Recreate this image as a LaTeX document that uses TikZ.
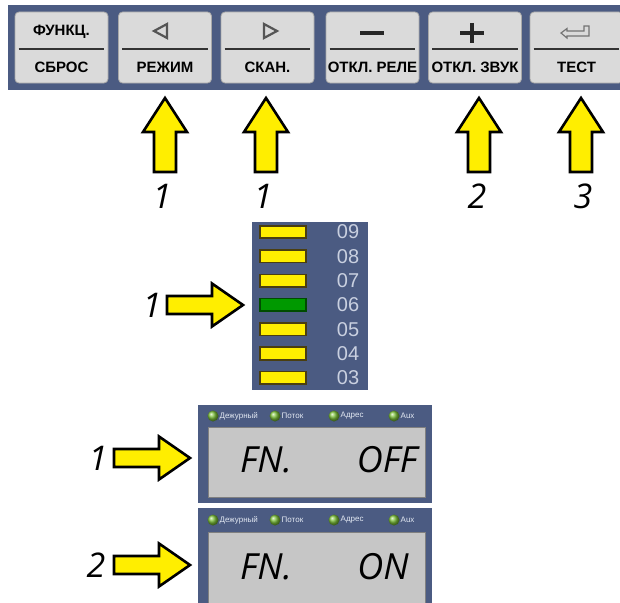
\documentclass[tikz,border=0pt]{standalone}
\usepackage{fontspec}
\setmainfont{Liberation Sans}
\newfontfamily\numfont{Open Sans}
\usetikzlibrary{shadings}
\definecolor{panelblue}{HTML}{4B5B82}
\definecolor{btnface}{HTML}{DADADA}
\definecolor{btnedge}{HTML}{A8A8A8}
\definecolor{arrowyellow}{HTML}{FFEE00}
\definecolor{barolive}{HTML}{4A3E10}
\definecolor{numgrey}{HTML}{C9D0E0}
\definecolor{lcdgrey}{HTML}{C6C6C6}
\definecolor{ledtext}{HTML}{E2E8F2}
\definecolor{glyphgrey}{HTML}{555555}
\definecolor{ledgreen}{HTML}{7DC23A}
\tikzset{
  btn/.style={draw=btnedge, fill=btnface, rounded corners=4pt, line width=0.8pt, minimum width=93pt, minimum height=71pt, inner sep=0pt},
  btntext/.style={font=\bfseries\fontsize{15}{16}\selectfont, text=black, inner sep=0pt},
  divider/.style={draw=black!80, line width=1.8pt},
  arrowshape/.style={draw=black, fill=arrowyellow, line width=2.6pt, line join=miter},
  numlabel/.style={font=\numfont\itshape\fontsize{34}{36}\selectfont, inner sep=0pt},
  bar/.style={draw=barolive, fill=arrowyellow, line width=1.6pt, minimum width=46pt, minimum height=12.5pt, inner sep=0pt},
  barnum/.style={font=\fontsize{20}{21}\selectfont, text=numgrey, inner sep=0pt},
  ledtxt/.style={font=\fontsize{8}{9}\selectfont, text=ledtext, anchor=west, inner sep=0pt},
  lcdtext/.style={font=\numfont\itshape\fontsize{36}{38}\selectfont, inner sep=0pt},
  uparrow/.pic={\path[arrowshape] (0,0) -- (22,34) -- (11,34) -- (11,74) -- (-11,74) -- (-11,34) -- (-22,34) -- cycle;},
  rightarrow/.pic={\path[arrowshape] (0,0) -- (-31,-21.5) -- (-31,-9) -- (-76,-9) -- (-76,9) -- (-31,9) -- (-31,21.5) -- cycle;},
}
\newcommand{\ledat}[3]{%
  \shade[ball color=ledgreen] (#1,#2) circle (5.5);
  \node[ledtxt] at ({#1+6.5},#2) {#3};}
\begin{document}
\begin{tikzpicture}[x=1pt,y=-1pt]
\useasboundingbox (0,0) rectangle (620,602);
\begin{scope}
\clip (0,0) rectangle (620,602);
% ---------- top button panel ----------
\fill[panelblue] (8,5) rectangle (625,90);
\node[btn] (b1) at (61.5,47.5) {};
\node[btn] (b2) at (165,47.5) {};
\node[btn] (b3) at (267.5,47.5) {};
\node[btn] (b4) at (372.5,47.5) {};
\node[btn] (b5) at (475,47.5) {};
\node[btn] (b6) at (576.5,47.5) {};
\foreach \b in {b1,b2,b3,b4,b5,b6}{
  \draw[divider] ([xshift=4pt,yshift=-1.5pt]\b.west) -- ([xshift=-4pt,yshift=-1.5pt]\b.east);
}
\node[btntext] (t1) at (61.5,32) {ФУНКЦ.};
\node[btntext] (s1) at (61.5,67.5) {СБРОС};
\node[btntext] (s2) at (165,67.5) {РЕЖИМ};
\node[btntext] (s3) at (267.5,67.5) {СКАН.};
\node[btntext] (s4) at (372.5,67.5) {ОТКЛ. РЕЛЕ};
\node[btntext] (s5) at (475,67.5) {ОТКЛ. ЗВУК};
\node[btntext] (s6) at (576.5,67.5) {ТЕСТ};
% glyphs
\draw[glyphgrey, line width=2.2pt, line join=miter] (154,31) -- (167,24) -- (167,38) -- cycle;
\draw[glyphgrey, line width=2.2pt, line join=miter] (277,31) -- (264,24) -- (264,38) -- cycle;
\draw[black!85, line width=4pt] (360,33) -- (384,33);
\draw[black!85, line width=4pt] (460,33) -- (484,33);
\draw[black!85, line width=4pt] (472,23) -- (472,43);
\draw[black!55, fill=btnface, line width=1.2pt, line join=miter]
  (561,33) -- (567,28.5) -- (567,31) -- (584,31) -- (584,26) -- (589,26) -- (589,36) -- (567,36) -- (567,38) -- cycle;
% ---------- up arrows ----------
\pic at (165,98) {uparrow};
\pic at (266,98) {uparrow};
\pic at (479,98) {uparrow};
\pic at (581,98) {uparrow};
\node[numlabel] (n1) at (162,196) {1};
\node[numlabel] (n2) at (263,196) {1};
\node[numlabel] (n3) at (477,196) {2};
\node[numlabel] (n4) at (583,196) {3};
% ---------- bar panel ----------
\fill[panelblue] (252,222) rectangle (368,390);
\foreach \i/\n in {0/09,1/08,2/07,3/06,4/05,5/04,6/03}{
  \node[barnum] (num\n) at (348,{232+24.3*\i}) {\n};
}
\foreach \i/\n in {0/09,1/08,2/07,4/05,5/04,6/03}{
  \node[bar] (bar\n) at (283,{232+24.3*\i}) {};
}
\node[bar, fill=green!60!black, draw=black!70!green] (bar06) at (283,{232+24.3*3}) {};
\pic at (243,305) {rightarrow};
\node[numlabel] (n5) at (152,305) {1};
% ---------- display 1 ----------
\fill[panelblue] (198,405) rectangle (432,503);
\draw[fill=lcdgrey, draw=black!50, line width=0.8pt] (208,427) rectangle (425,497);
\ledat{213}{416}{Дежурный}
\ledat{275}{416}{Поток}
\ledat{334}{416}{Адрес}
\ledat{394}{416}{Aux}
\node[lcdtext] (fn1) at (266,460) {FN.};
\node[lcdtext] (off) at (387,460) {OFF};
\pic at (190,458) {rightarrow};
\node[numlabel] (n6) at (98,458) {1};
% ---------- display 2 ----------
\fill[panelblue] (198,508) rectangle (432,610);
\draw[fill=lcdgrey, draw=black!50, line width=0.8pt] (208,532) rectangle (425,615);
\ledat{213}{520}{Дежурный}
\ledat{275}{520}{Поток}
\ledat{334}{520}{Адрес}
\ledat{394}{520}{Aux}
\node[lcdtext] (fn2) at (266,567) {FN.};
\node[lcdtext] (on) at (383,567) {ON};
\pic at (190,565) {rightarrow};
\node[numlabel] (n7) at (96,565) {2};
\end{scope}
\end{tikzpicture}
\end{document}
